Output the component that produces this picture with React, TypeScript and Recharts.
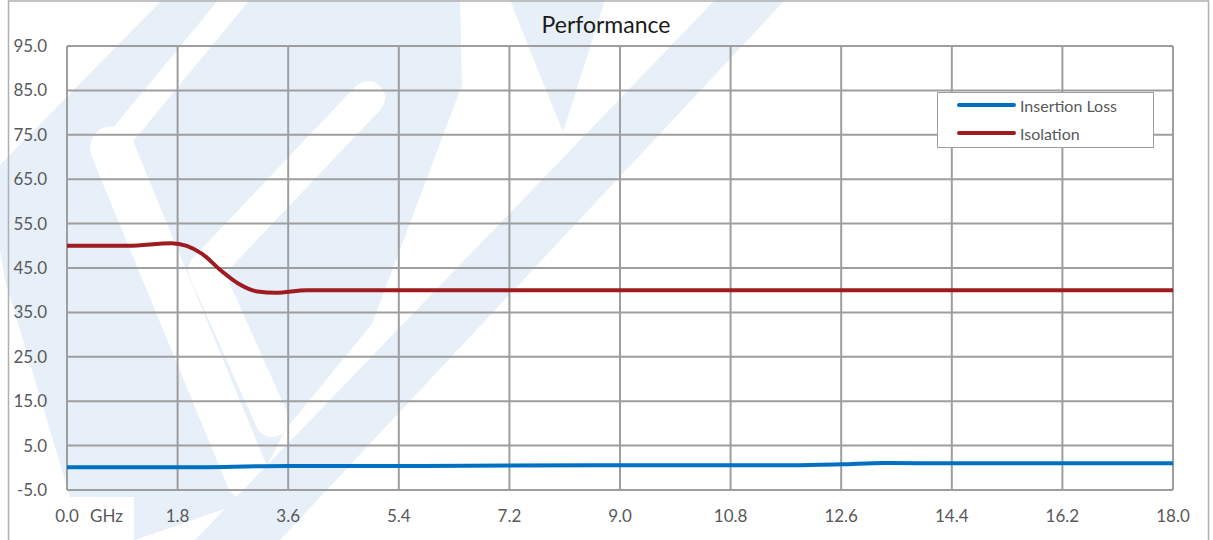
import React from 'react';
import { LineChart, Line, XAxis, YAxis, CartesianGrid, Legend } from 'recharts';

// frequency axis (GHz) and level axis (dB)
const freqTicks = [0, 1.8, 3.6, 5.4, 7.2, 9.0, 10.8, 12.6, 14.4, 16.2, 18.0];
const dbTicks = [-5, 5, 15, 25, 35, 45, 55, 65, 75, 85, 95];

const lossFreq = [0, 1.8, 3.6, 5.4, 7.2, 9.0, 10.8, 11.8, 12.6, 13.3, 14.4, 16.2, 18.0];
const lossDb = [0.1, 0.1, 0.4, 0.4, 0.5, 0.6, 0.6, 0.6, 0.8, 1.1, 1.0, 1.0, 1.0];

const isolationFreq = [0, 1.0, 1.7, 2.2, 2.5, 2.8, 3.1, 3.4, 3.9, 5.4, 9.0, 12.6, 18.0];
const isolationDb = [50.0, 50.0, 50.6, 48.2, 44.5, 41.4, 39.7, 39.4, 40.0, 40.0, 40.0, 40.0, 40.0];

const lossData = lossFreq.map((f, i) => ({ f, v: lossDb[i] }));
const isolationData = isolationFreq.map((f, i) => ({ f, v: isolationDb[i] }));

const FONT = 'Lato, "Open Sans", sans-serif';
const GRID = '#9e9e9e';
const TEXT = '#595959';
const WM = '#e7eff8';

const FreqTick = (props: any) => {
  const { x, y, payload } = props;
  const v = payload.value as number;
  if (v === 0) {
    return (
      <g>
        <text x={x} y={y} dy="0.71em" textAnchor="middle" fill={TEXT} fontSize={17} fontFamily={FONT}>0.0</text>
        <text x={x + 23} y={y} dy="0.71em" textAnchor="start" fill={TEXT} fontSize={17} fontFamily={FONT}>GHz</text>
      </g>
    );
  }
  return (
    <text x={x} y={y} dy="0.71em" textAnchor="middle" fill={TEXT} fontSize={17} fontFamily={FONT}>
      {v.toFixed(1)}
    </text>
  );
};

const LegendBox = (props: any) => {
  const { payload } = props;
  return (
    <div style={{ width: 217, height: 56, boxSizing: 'border-box', border: `1.5px solid ${GRID}`, background: '#fff', paddingLeft: 19, fontFamily: FONT }}>
      <div style={{ marginTop: -2 }}>
        {(payload || []).map((e: any) => (
          <div key={e.value} style={{ display: 'flex', alignItems: 'center', height: 28 }}>
            <span style={{ display: 'inline-block', width: 59, height: 4, borderRadius: 2, background: e.color, marginRight: 4 }} />
            <span style={{ color: TEXT, fontSize: 16 }}>{e.value}</span>
          </div>
        ))}
      </div>
    </div>
  );
};

// faint logo behind the plot
const Watermark = () => (
  <svg width={1213} height={540} style={{ position: 'absolute', left: 0, top: 0 }}>
    <rect x={0} y={0} width={1213} height={540} fill="#fff" />
    <polygon points="162,0 460,0 462,85 372,324 285,430 250,500 135,540 83,540 5,280 0,250 0,165" fill={WM} />
    <path d="M 238,-5 L 112,148" fill="none" stroke="#fff" strokeWidth={24} strokeLinecap="round" />
    <path d="M 112,148 L 248,478" fill="none" stroke="#fff" strokeWidth={44} strokeLinecap="round" />
    <path d="M 368,98 L 205,270 L 272,420" fill="none" stroke="#fff" strokeWidth={34} strokeLinejoin="round" strokeLinecap="round" />
    <polygon points="715,0 785,0 280,540 195,540" fill={WM} />
    <polygon points="510,0 605,0 563,132" fill={WM} />
    <rect x={44} y={497} width={90} height={43} fill="#fff" />
    <rect x={8.5} y={1} width={1200} height={560} fill="none" stroke="#b0b0b0" strokeWidth={1.5} />
    <text x={606} y={33} textAnchor="middle" fontSize={23} fontFamily={FONT} fill="#1a1a1a">Performance</text>
  </svg>
);

export default function App() {
  return (
    <div style={{ position: 'absolute', left: 0, top: 0, width: 1213, height: 540, overflow: 'hidden' }}>
      <Watermark />
      <div style={{ position: 'absolute', left: 0, top: 0 }}>
        <LineChart width={1213} height={540} margin={{ top: 46, right: 40, bottom: 10, left: 7 }}>
          <CartesianGrid stroke={GRID} strokeWidth={2} />
          <XAxis
            dataKey="f"
            type="number"
            domain={[0, 18]}
            ticks={freqTicks}
            interval={0}
            axisLine={false}
            tickLine={false}
            tickSize={0}
            tickMargin={20}
            height={40}
            tick={<FreqTick />}
          />
          <YAxis
            type="number"
            domain={[-5, 95]}
            ticks={dbTicks}
            interval={0}
            axisLine={false}
            tickLine={false}
            tickSize={0}
            tickMargin={20}
            width={60}
            tick={{ fill: TEXT, fontSize: 17, fontFamily: FONT }}
            tickFormatter={(v: number) => v.toFixed(1)}
          />
          <Legend
            layout="horizontal"
            verticalAlign="middle"
            align="center"
            content={<LegendBox />}
            wrapperStyle={{ position: 'absolute', left: 937, top: 92, width: 217, height: 56 }}
          />
          <Line data={lossData} dataKey="v" name="Insertion Loss" type="monotone" stroke="#0070c0" strokeWidth={4} dot={false} isAnimationActive={false} />
          <Line data={isolationData} dataKey="v" name="Isolation" type="monotone" stroke="#9e1b20" strokeWidth={4} dot={false} isAnimationActive={false} />
        </LineChart>
      </div>
    </div>
  );
}
